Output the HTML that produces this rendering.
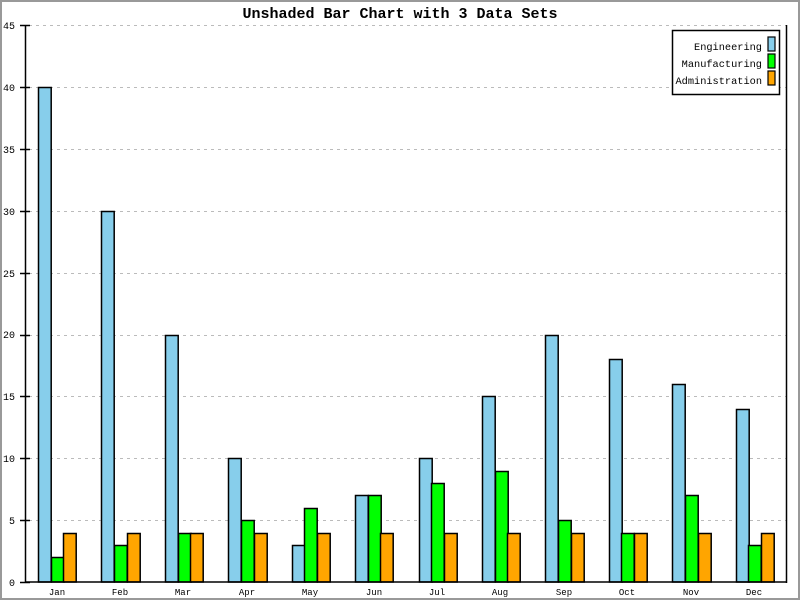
<!DOCTYPE html>
<html><head><meta charset="utf-8"><style>
html,body{margin:0;padding:0;background:#fff}
svg{display:block}
text{font-family:"Liberation Mono","DejaVu Sans Mono",monospace}
</style></head><body>
<svg id="s" width="800" height="600" xmlns="http://www.w3.org/2000/svg">
<rect x="1" y="1" width="798" height="598" fill="#fff" stroke="#999" stroke-width="2"/>
<text x="400" y="18" text-anchor="middle" font-size="15" font-weight="bold">Unshaded Bar Chart with 3 Data Sets</text>
<g id="grid" stroke="#bbb" stroke-dasharray="3,4" stroke-width="1"></g>
<g id="bars" stroke="#000" stroke-width="1.5"></g>
<g font-size="10" text-anchor="end">
<text x="15" y="29">45</text><text x="15" y="91">40</text><text x="15" y="153">35</text><text x="15" y="215">30</text><text x="15" y="277">25</text><text x="15" y="338">20</text><text x="15" y="400">15</text><text x="15" y="462">10</text><text x="15" y="524">5</text><text x="15" y="586">0</text>
</g>
<g font-size="9" text-anchor="middle">
<text x="57" y="595">Jan</text><text x="120" y="595">Feb</text><text x="183" y="595">Mar</text><text x="247" y="595">Apr</text><text x="310" y="595">May</text><text x="374" y="595">Jun</text><text x="437" y="595">Jul</text><text x="500" y="595">Aug</text><text x="564" y="595">Sep</text><text x="627" y="595">Oct</text><text x="691" y="595">Nov</text><text x="754" y="595">Dec</text>
</g>
<line x1="25.5" y1="25" x2="25.5" y2="583" stroke="#000" stroke-width="1.5"/>
<line x1="786.5" y1="25" x2="786.5" y2="583" stroke="#000" stroke-width="1.5"/>
<line x1="25" y1="582" x2="787" y2="582" stroke="#000" stroke-width="1.5"/>
<g id="ticks" stroke="#000" stroke-width="1.5"></g>
<rect x="672.5" y="30.5" width="107" height="64" fill="#fff" stroke="#000" stroke-width="1.5"/>
<g font-size="10.3" text-anchor="end">
<text x="762" y="50">Engineering</text>
<text x="762" y="67">Manufacturing</text>
<text x="762" y="84">Administration</text>
</g>
<g stroke="#000" stroke-width="1.2">
<rect x="768" y="37" width="7" height="14" fill="#87ceeb"/>
<rect x="768" y="54" width="7" height="14" fill="#00ff00"/>
<rect x="768" y="71" width="7" height="14" fill="#ffa500"/>
</g>
</svg>
<script>
var NS="http://www.w3.org/2000/svg";
function el(p,t,a){var e=document.createElementNS(NS,t);for(var k in a)e.setAttribute(k,a[k]);document.getElementById(p).appendChild(e);}
var u=12.367;
for(var v=5;v<=45;v+=5){var y=Math.round(582-v*u)+0.5;el("grid","line",{x1:29,y1:y,x2:786,y2:y});}
for(var v=0;v<=45;v+=5){var y=Math.round(582-v*u)+0.5;el("ticks","line",{x1:20,y1:y,x2:30,y2:y});}
var E=[40,30,20,10,3,7,10,15,20,18,16,14],M=[2,3,4,5,6,7,8,9,5,4,7,3];
var cols=["#87ceeb","#00ff00","#ffa500"];
for(var i=0;i<12;i++){var x0=38+i*63.417;var vals=[E[i],M[i],4];
for(var j=0;j<3;j++){var x=Math.round(x0+j*12.7)+0.5;var y=Math.round(582-vals[j]*u)+0.5;
el("bars","rect",{x:x,y:y,width:12.7,height:582-y,fill:cols[j]});}}
</script>
</body></html>
